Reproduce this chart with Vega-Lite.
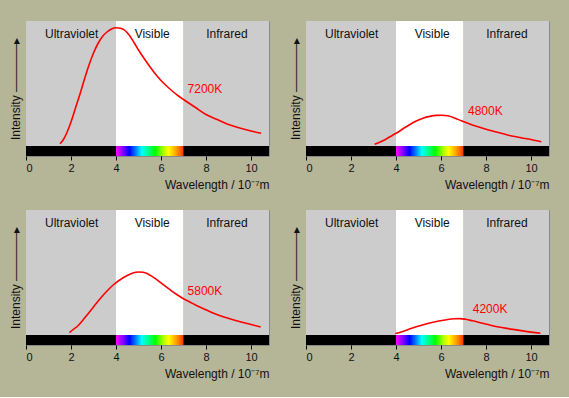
{
  "$schema": "https://vega.github.io/schema/vega-lite/v6.json",
  "background": "#b5b598",
  "padding": {"left": 9, "top": 20, "right": 19, "bottom": 17},
  "datasets": {
    "all": [
    {"pos":1,"kind":"region","r":"Ultraviolet","x":0,"x2":4,"mid":2.03},
    {"pos":1,"kind":"region","r":"Visible","x":4,"x2":7,"mid":5.61},
    {"pos":1,"kind":"region","r":"Infrared","x":7,"x2":10.8,"mid":8.93},
    {"pos":2,"kind":"region","r":"Ultraviolet","x":0,"x2":4,"mid":2.03},
    {"pos":2,"kind":"region","r":"Visible","x":4,"x2":7,"mid":5.61},
    {"pos":2,"kind":"region","r":"Infrared","x":7,"x2":10.8,"mid":8.93},
    {"pos":3,"kind":"region","r":"Ultraviolet","x":0,"x2":4,"mid":2.03},
    {"pos":3,"kind":"region","r":"Visible","x":4,"x2":7,"mid":5.61},
    {"pos":3,"kind":"region","r":"Infrared","x":7,"x2":10.8,"mid":8.93},
    {"pos":4,"kind":"region","r":"Ultraviolet","x":0,"x2":4,"mid":2.03},
    {"pos":4,"kind":"region","r":"Visible","x":4,"x2":7,"mid":5.61},
    {"pos":4,"kind":"region","r":"Infrared","x":7,"x2":10.8,"mid":8.93},
    {"pos":1,"kind":"bar","x":0,"x2":10.8},
    {"pos":2,"kind":"bar","x":0,"x2":10.8},
    {"pos":3,"kind":"bar","x":0,"x2":10.8},
    {"pos":4,"kind":"bar","x":0,"x2":10.8},
    {"pos":1,"kind":"temp","t":"7200K","x":7.18,"y":57.5},
    {"pos":2,"kind":"temp","t":"4800K","x":7.2,"y":35},
    {"pos":3,"kind":"temp","t":"5800K","x":7.18,"y":43.8},
    {"pos":4,"kind":"temp","t":"4200K","x":7.41,"y":26},
    {"pos":1,"kind":"c","x":1.51,"y":2.3},
    {"pos":1,"kind":"c","x":1.65,"y":6},
    {"pos":1,"kind":"c","x":1.8,"y":12.5},
    {"pos":1,"kind":"c","x":2.0,"y":24},
    {"pos":1,"kind":"c","x":2.2,"y":38},
    {"pos":1,"kind":"c","x":2.4,"y":52},
    {"pos":1,"kind":"c","x":2.6,"y":67},
    {"pos":1,"kind":"c","x":2.8,"y":81},
    {"pos":1,"kind":"c","x":3.0,"y":93},
    {"pos":1,"kind":"c","x":3.2,"y":102.5},
    {"pos":1,"kind":"c","x":3.4,"y":109.5},
    {"pos":1,"kind":"c","x":3.6,"y":114},
    {"pos":1,"kind":"c","x":3.8,"y":117},
    {"pos":1,"kind":"c","x":4.0,"y":118.2},
    {"pos":1,"kind":"c","x":4.2,"y":117.8},
    {"pos":1,"kind":"c","x":4.4,"y":115.5},
    {"pos":1,"kind":"c","x":4.6,"y":110.5},
    {"pos":1,"kind":"c","x":4.8,"y":103.5},
    {"pos":1,"kind":"c","x":5.0,"y":96},
    {"pos":1,"kind":"c","x":5.25,"y":87.5},
    {"pos":1,"kind":"c","x":5.5,"y":79.5},
    {"pos":1,"kind":"c","x":5.75,"y":72},
    {"pos":1,"kind":"c","x":6.0,"y":65.5},
    {"pos":1,"kind":"c","x":6.25,"y":60},
    {"pos":1,"kind":"c","x":6.5,"y":55},
    {"pos":1,"kind":"c","x":6.75,"y":50.5},
    {"pos":1,"kind":"c","x":7.0,"y":46.5},
    {"pos":1,"kind":"c","x":7.5,"y":39},
    {"pos":1,"kind":"c","x":8.0,"y":31.5},
    {"pos":1,"kind":"c","x":8.5,"y":26.5},
    {"pos":1,"kind":"c","x":9.0,"y":21.5},
    {"pos":1,"kind":"c","x":9.5,"y":18},
    {"pos":1,"kind":"c","x":10.0,"y":15},
    {"pos":1,"kind":"c","x":10.45,"y":12.7},
    {"pos":2,"kind":"c","x":3.05,"y":1.7},
    {"pos":2,"kind":"c","x":3.3,"y":4},
    {"pos":2,"kind":"c","x":3.55,"y":6.8},
    {"pos":2,"kind":"c","x":3.8,"y":10},
    {"pos":2,"kind":"c","x":4.0,"y":12.7},
    {"pos":2,"kind":"c","x":4.3,"y":17},
    {"pos":2,"kind":"c","x":4.6,"y":21.3},
    {"pos":2,"kind":"c","x":4.9,"y":25},
    {"pos":2,"kind":"c","x":5.2,"y":27.8},
    {"pos":2,"kind":"c","x":5.5,"y":29.6},
    {"pos":2,"kind":"c","x":5.8,"y":30.6},
    {"pos":2,"kind":"c","x":6.05,"y":30.8},
    {"pos":2,"kind":"c","x":6.3,"y":30.2},
    {"pos":2,"kind":"c","x":6.6,"y":28},
    {"pos":2,"kind":"c","x":6.9,"y":25.3},
    {"pos":2,"kind":"c","x":7.2,"y":22.7},
    {"pos":2,"kind":"c","x":7.5,"y":20.2},
    {"pos":2,"kind":"c","x":8.0,"y":16.7},
    {"pos":2,"kind":"c","x":8.5,"y":13.7},
    {"pos":2,"kind":"c","x":9.0,"y":10.8},
    {"pos":2,"kind":"c","x":9.5,"y":8.5},
    {"pos":2,"kind":"c","x":10.0,"y":6.5},
    {"pos":2,"kind":"c","x":10.46,"y":4.3},
    {"pos":3,"kind":"c","x":1.93,"y":2.3},
    {"pos":3,"kind":"c","x":2.1,"y":5.5},
    {"pos":3,"kind":"c","x":2.3,"y":9},
    {"pos":3,"kind":"c","x":2.5,"y":14},
    {"pos":3,"kind":"c","x":2.75,"y":21},
    {"pos":3,"kind":"c","x":3.0,"y":28},
    {"pos":3,"kind":"c","x":3.3,"y":36.5},
    {"pos":3,"kind":"c","x":3.6,"y":44},
    {"pos":3,"kind":"c","x":3.9,"y":50.5},
    {"pos":3,"kind":"c","x":4.2,"y":55.5},
    {"pos":3,"kind":"c","x":4.5,"y":59.5},
    {"pos":3,"kind":"c","x":4.75,"y":62},
    {"pos":3,"kind":"c","x":5.0,"y":63},
    {"pos":3,"kind":"c","x":5.2,"y":62.7},
    {"pos":3,"kind":"c","x":5.4,"y":61.3},
    {"pos":3,"kind":"c","x":5.6,"y":58.7},
    {"pos":3,"kind":"c","x":5.85,"y":54.7},
    {"pos":3,"kind":"c","x":6.1,"y":50.3},
    {"pos":3,"kind":"c","x":6.4,"y":45.3},
    {"pos":3,"kind":"c","x":6.7,"y":40.5},
    {"pos":3,"kind":"c","x":7.0,"y":36.3},
    {"pos":3,"kind":"c","x":7.3,"y":32.8},
    {"pos":3,"kind":"c","x":7.6,"y":29.3},
    {"pos":3,"kind":"c","x":8.0,"y":25.2},
    {"pos":3,"kind":"c","x":8.4,"y":21.2},
    {"pos":3,"kind":"c","x":8.8,"y":18},
    {"pos":3,"kind":"c","x":9.2,"y":15.2},
    {"pos":3,"kind":"c","x":9.6,"y":12.7},
    {"pos":3,"kind":"c","x":10.0,"y":10.5},
    {"pos":3,"kind":"c","x":10.43,"y":8},
    {"pos":4,"kind":"c","x":3.97,"y":1.5},
    {"pos":4,"kind":"c","x":4.3,"y":3.6},
    {"pos":4,"kind":"c","x":4.7,"y":6.7},
    {"pos":4,"kind":"c","x":5.1,"y":9.5},
    {"pos":4,"kind":"c","x":5.5,"y":12},
    {"pos":4,"kind":"c","x":5.9,"y":14},
    {"pos":4,"kind":"c","x":6.3,"y":15.5},
    {"pos":4,"kind":"c","x":6.6,"y":16.2},
    {"pos":4,"kind":"c","x":6.85,"y":16.4},
    {"pos":4,"kind":"c","x":7.1,"y":15.7},
    {"pos":4,"kind":"c","x":7.4,"y":14.2},
    {"pos":4,"kind":"c","x":7.8,"y":12},
    {"pos":4,"kind":"c","x":8.2,"y":9.8},
    {"pos":4,"kind":"c","x":8.7,"y":7.5},
    {"pos":4,"kind":"c","x":9.2,"y":5.6},
    {"pos":4,"kind":"c","x":9.7,"y":3.9},
    {"pos":4,"kind":"c","x":10.42,"y":1.8}
    ]
  },
  "data": {"name": "all"},
  "columns": 2,
  "spacing": {"row": 18, "column": 19},
  "concat": [
    {"width": 243, "height": 135, "transform": [{"filter": "datum.pos == 1"}], "layer": [
      {"transform": [{"filter": "datum.kind == 'region'"}], "mark": {"type": "rect"},
       "encoding": {"x": {"field": "x", "type": "quantitative", "scale": {"domain": [0, 10.8], "nice": false}, "axis": {"title": "Wavelength / 10⁻⁷m", "titleAnchor": "end", "values": [0, 2, 4, 6, 8, 10], "tickColor": "#000", "tickSize": 4, "domain": false, "grid": false, "labelFontSize": 11, "titleFontSize": 12, "labelPadding": 2, "titlePadding": 6}}, "x2": {"field": "x2"},
        "color": {"field": "r", "type": "nominal", "scale": {"domain": ["Ultraviolet", "Visible", "Infrared"], "range": ["#cccccc", "#ffffff", "#cccccc"]}, "legend": null}}},
      {"transform": [{"filter": "datum.kind == 'bar'"}], "mark": {"type": "rect", "color": "#000000"},
       "encoding": {"x": {"field": "x", "type": "quantitative"}, "x2": {"field": "x2"}, "y": {"datum": -10, "type": "quantitative"}, "y2": {"datum": 0}}},
      {"transform": [{"filter": "datum.kind == 'region' && datum.r == 'Visible'"}], "mark": {"type": "rect", "color": {"gradient": "linear", "x1": 0, "y1": 0, "x2": 1, "y2": 0, "stops": [{"offset": 0, "color": "#ff00ff"}, {"offset": 0.1, "color": "#8800ff"}, {"offset": 0.2, "color": "#0000ff"}, {"offset": 0.3, "color": "#0088ff"}, {"offset": 0.38, "color": "#00ffff"}, {"offset": 0.48, "color": "#00ff88"}, {"offset": 0.58, "color": "#00ff00"}, {"offset": 0.7, "color": "#aaff00"}, {"offset": 0.78, "color": "#ffff00"}, {"offset": 0.88, "color": "#ffaa00"}, {"offset": 1, "color": "#ff3300"}]}},
       "encoding": {"x": {"field": "x", "type": "quantitative"}, "x2": {"field": "x2"}, "y": {"datum": -10, "type": "quantitative"}, "y2": {"datum": 0}}},
      {"transform": [{"filter": "datum.kind == 'region'"}], "mark": {"type": "text", "fontSize": 12, "color": "#111111", "baseline": "middle", "align": "center"},
       "encoding": {"x": {"field": "mid", "type": "quantitative"}, "y": {"datum": 111.7, "type": "quantitative"}, "text": {"field": "r"}}},
      {"transform": [{"filter": "datum.kind == 'c'"}], "mark": {"type": "line", "color": "#ff0000", "strokeWidth": 1.6, "interpolate": "monotone"},
       "encoding": {"x": {"field": "x", "type": "quantitative"}, "y": {"field": "y", "type": "quantitative", "scale": {"domain": [-10, 125], "nice": false, "zero": false}, "axis": {"title": "Intensity ————▸", "labels": false, "ticks": false, "domain": false, "grid": false, "titleFontSize": 12, "titlePadding": 3.5}}}},
      {"transform": [{"filter": "datum.kind == 'temp'"}], "mark": {"type": "text", "fontSize": 12, "color": "#ff0000", "baseline": "middle", "align": "left"},
       "encoding": {"x": {"field": "x", "type": "quantitative"}, "y": {"field": "y", "type": "quantitative"}, "text": {"field": "t"}}}
    ]},
    {"width": 243, "height": 135, "transform": [{"filter": "datum.pos == 2"}], "layer": [
      {"transform": [{"filter": "datum.kind == 'region'"}], "mark": {"type": "rect"},
       "encoding": {"x": {"field": "x", "type": "quantitative", "scale": {"domain": [0, 10.8], "nice": false}, "axis": {"title": "Wavelength / 10⁻⁷m", "titleAnchor": "end", "values": [0, 2, 4, 6, 8, 10], "tickColor": "#000", "tickSize": 4, "domain": false, "grid": false, "labelFontSize": 11, "titleFontSize": 12, "labelPadding": 2, "titlePadding": 6}}, "x2": {"field": "x2"},
        "color": {"field": "r", "type": "nominal", "scale": {"domain": ["Ultraviolet", "Visible", "Infrared"], "range": ["#cccccc", "#ffffff", "#cccccc"]}, "legend": null}}},
      {"transform": [{"filter": "datum.kind == 'bar'"}], "mark": {"type": "rect", "color": "#000000"},
       "encoding": {"x": {"field": "x", "type": "quantitative"}, "x2": {"field": "x2"}, "y": {"datum": -10, "type": "quantitative"}, "y2": {"datum": 0}}},
      {"transform": [{"filter": "datum.kind == 'region' && datum.r == 'Visible'"}], "mark": {"type": "rect", "color": {"gradient": "linear", "x1": 0, "y1": 0, "x2": 1, "y2": 0, "stops": [{"offset": 0, "color": "#ff00ff"}, {"offset": 0.1, "color": "#8800ff"}, {"offset": 0.2, "color": "#0000ff"}, {"offset": 0.3, "color": "#0088ff"}, {"offset": 0.38, "color": "#00ffff"}, {"offset": 0.48, "color": "#00ff88"}, {"offset": 0.58, "color": "#00ff00"}, {"offset": 0.7, "color": "#aaff00"}, {"offset": 0.78, "color": "#ffff00"}, {"offset": 0.88, "color": "#ffaa00"}, {"offset": 1, "color": "#ff3300"}]}},
       "encoding": {"x": {"field": "x", "type": "quantitative"}, "x2": {"field": "x2"}, "y": {"datum": -10, "type": "quantitative"}, "y2": {"datum": 0}}},
      {"transform": [{"filter": "datum.kind == 'region'"}], "mark": {"type": "text", "fontSize": 12, "color": "#111111", "baseline": "middle", "align": "center"},
       "encoding": {"x": {"field": "mid", "type": "quantitative"}, "y": {"datum": 111.7, "type": "quantitative"}, "text": {"field": "r"}}},
      {"transform": [{"filter": "datum.kind == 'c'"}], "mark": {"type": "line", "color": "#ff0000", "strokeWidth": 1.6, "interpolate": "monotone"},
       "encoding": {"x": {"field": "x", "type": "quantitative"}, "y": {"field": "y", "type": "quantitative", "scale": {"domain": [-10, 125], "nice": false, "zero": false}, "axis": {"title": "Intensity ————▸", "labels": false, "ticks": false, "domain": false, "grid": false, "titleFontSize": 12, "titlePadding": 3.5}}}},
      {"transform": [{"filter": "datum.kind == 'temp'"}], "mark": {"type": "text", "fontSize": 12, "color": "#ff0000", "baseline": "middle", "align": "left"},
       "encoding": {"x": {"field": "x", "type": "quantitative"}, "y": {"field": "y", "type": "quantitative"}, "text": {"field": "t"}}}
    ]},
    {"width": 243, "height": 135, "transform": [{"filter": "datum.pos == 3"}], "layer": [
      {"transform": [{"filter": "datum.kind == 'region'"}], "mark": {"type": "rect"},
       "encoding": {"x": {"field": "x", "type": "quantitative", "scale": {"domain": [0, 10.8], "nice": false}, "axis": {"title": "Wavelength / 10⁻⁷m", "titleAnchor": "end", "values": [0, 2, 4, 6, 8, 10], "tickColor": "#000", "tickSize": 4, "domain": false, "grid": false, "labelFontSize": 11, "titleFontSize": 12, "labelPadding": 2, "titlePadding": 6}}, "x2": {"field": "x2"},
        "color": {"field": "r", "type": "nominal", "scale": {"domain": ["Ultraviolet", "Visible", "Infrared"], "range": ["#cccccc", "#ffffff", "#cccccc"]}, "legend": null}}},
      {"transform": [{"filter": "datum.kind == 'bar'"}], "mark": {"type": "rect", "color": "#000000"},
       "encoding": {"x": {"field": "x", "type": "quantitative"}, "x2": {"field": "x2"}, "y": {"datum": -10, "type": "quantitative"}, "y2": {"datum": 0}}},
      {"transform": [{"filter": "datum.kind == 'region' && datum.r == 'Visible'"}], "mark": {"type": "rect", "color": {"gradient": "linear", "x1": 0, "y1": 0, "x2": 1, "y2": 0, "stops": [{"offset": 0, "color": "#ff00ff"}, {"offset": 0.1, "color": "#8800ff"}, {"offset": 0.2, "color": "#0000ff"}, {"offset": 0.3, "color": "#0088ff"}, {"offset": 0.38, "color": "#00ffff"}, {"offset": 0.48, "color": "#00ff88"}, {"offset": 0.58, "color": "#00ff00"}, {"offset": 0.7, "color": "#aaff00"}, {"offset": 0.78, "color": "#ffff00"}, {"offset": 0.88, "color": "#ffaa00"}, {"offset": 1, "color": "#ff3300"}]}},
       "encoding": {"x": {"field": "x", "type": "quantitative"}, "x2": {"field": "x2"}, "y": {"datum": -10, "type": "quantitative"}, "y2": {"datum": 0}}},
      {"transform": [{"filter": "datum.kind == 'region'"}], "mark": {"type": "text", "fontSize": 12, "color": "#111111", "baseline": "middle", "align": "center"},
       "encoding": {"x": {"field": "mid", "type": "quantitative"}, "y": {"datum": 111.7, "type": "quantitative"}, "text": {"field": "r"}}},
      {"transform": [{"filter": "datum.kind == 'c'"}], "mark": {"type": "line", "color": "#ff0000", "strokeWidth": 1.6, "interpolate": "monotone"},
       "encoding": {"x": {"field": "x", "type": "quantitative"}, "y": {"field": "y", "type": "quantitative", "scale": {"domain": [-10, 125], "nice": false, "zero": false}, "axis": {"title": "Intensity ————▸", "labels": false, "ticks": false, "domain": false, "grid": false, "titleFontSize": 12, "titlePadding": 3.5}}}},
      {"transform": [{"filter": "datum.kind == 'temp'"}], "mark": {"type": "text", "fontSize": 12, "color": "#ff0000", "baseline": "middle", "align": "left"},
       "encoding": {"x": {"field": "x", "type": "quantitative"}, "y": {"field": "y", "type": "quantitative"}, "text": {"field": "t"}}}
    ]},
    {"width": 243, "height": 135, "transform": [{"filter": "datum.pos == 4"}], "layer": [
      {"transform": [{"filter": "datum.kind == 'region'"}], "mark": {"type": "rect"},
       "encoding": {"x": {"field": "x", "type": "quantitative", "scale": {"domain": [0, 10.8], "nice": false}, "axis": {"title": "Wavelength / 10⁻⁷m", "titleAnchor": "end", "values": [0, 2, 4, 6, 8, 10], "tickColor": "#000", "tickSize": 4, "domain": false, "grid": false, "labelFontSize": 11, "titleFontSize": 12, "labelPadding": 2, "titlePadding": 6}}, "x2": {"field": "x2"},
        "color": {"field": "r", "type": "nominal", "scale": {"domain": ["Ultraviolet", "Visible", "Infrared"], "range": ["#cccccc", "#ffffff", "#cccccc"]}, "legend": null}}},
      {"transform": [{"filter": "datum.kind == 'bar'"}], "mark": {"type": "rect", "color": "#000000"},
       "encoding": {"x": {"field": "x", "type": "quantitative"}, "x2": {"field": "x2"}, "y": {"datum": -10, "type": "quantitative"}, "y2": {"datum": 0}}},
      {"transform": [{"filter": "datum.kind == 'region' && datum.r == 'Visible'"}], "mark": {"type": "rect", "color": {"gradient": "linear", "x1": 0, "y1": 0, "x2": 1, "y2": 0, "stops": [{"offset": 0, "color": "#ff00ff"}, {"offset": 0.1, "color": "#8800ff"}, {"offset": 0.2, "color": "#0000ff"}, {"offset": 0.3, "color": "#0088ff"}, {"offset": 0.38, "color": "#00ffff"}, {"offset": 0.48, "color": "#00ff88"}, {"offset": 0.58, "color": "#00ff00"}, {"offset": 0.7, "color": "#aaff00"}, {"offset": 0.78, "color": "#ffff00"}, {"offset": 0.88, "color": "#ffaa00"}, {"offset": 1, "color": "#ff3300"}]}},
       "encoding": {"x": {"field": "x", "type": "quantitative"}, "x2": {"field": "x2"}, "y": {"datum": -10, "type": "quantitative"}, "y2": {"datum": 0}}},
      {"transform": [{"filter": "datum.kind == 'region'"}], "mark": {"type": "text", "fontSize": 12, "color": "#111111", "baseline": "middle", "align": "center"},
       "encoding": {"x": {"field": "mid", "type": "quantitative"}, "y": {"datum": 111.7, "type": "quantitative"}, "text": {"field": "r"}}},
      {"transform": [{"filter": "datum.kind == 'c'"}], "mark": {"type": "line", "color": "#ff0000", "strokeWidth": 1.6, "interpolate": "monotone"},
       "encoding": {"x": {"field": "x", "type": "quantitative"}, "y": {"field": "y", "type": "quantitative", "scale": {"domain": [-10, 125], "nice": false, "zero": false}, "axis": {"title": "Intensity ————▸", "labels": false, "ticks": false, "domain": false, "grid": false, "titleFontSize": 12, "titlePadding": 3.5}}}},
      {"transform": [{"filter": "datum.kind == 'temp'"}], "mark": {"type": "text", "fontSize": 12, "color": "#ff0000", "baseline": "middle", "align": "left"},
       "encoding": {"x": {"field": "x", "type": "quantitative"}, "y": {"field": "y", "type": "quantitative"}, "text": {"field": "t"}}}
    ]}
  ],
  "config": {
    "font": "Liberation Sans",
    "view": {"stroke": "#8a8a8a", "strokeWidth": 1},
    "axis": {"labelFont": "Liberation Sans", "titleFont": "Liberation Sans", "labelColor": "#111111", "titleColor": "#111111", "titleFontWeight": "normal"},
    "text": {"font": "Liberation Sans"}
  }
}
